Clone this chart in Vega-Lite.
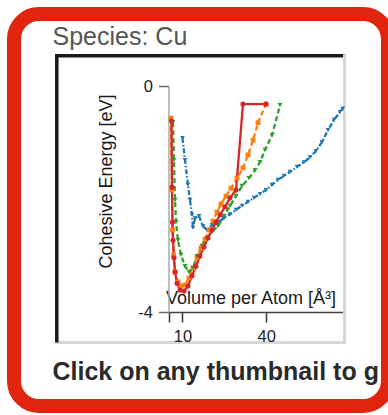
{
  "$schema": "https://vega.github.io/schema/vega-lite/v6.json",
  "width": 374,
  "height": 392,
  "autosize": {"type": "none"},
  "padding": {"left": 14, "top": 14, "right": 0, "bottom": 9},
  "background": "white",
  "view": {"stroke": "#e0240e", "strokeWidth": 14, "cornerRadius": 25, "fill": "white"},
  "title": {
    "text": "Species: Cu",
    "subtitle": "Click on any thumbnail to g",
    "anchor": "start",
    "frame": "group",
    "orient": "top",
    "offset": -371,
    "dx": 38.5,
    "font": "Liberation Sans",
    "fontSize": 25,
    "fontWeight": "normal",
    "color": "#555555",
    "subtitleFont": "Liberation Sans",
    "subtitleFontSize": 25,
    "subtitleFontWeight": "bold",
    "subtitleColor": "#2a2a2a",
    "subtitlePadding": 310
  },
  "data": {"values": [
    {"s":"b","i":0,"v":10.01,"e":-0.92},{"s":"b","i":1,"v":10.91,"e":-1.31},{"s":"b","i":2,"v":11.98,"e":-1.75},{"s":"b","i":3,"v":12.70,"e":-2.02},{"s":"b","i":4,"v":13.42,"e":-2.28},{"s":"b","i":5,"v":13.77,"e":-2.51},{"s":"b","i":6,"v":14.49,"e":-2.34},{"s":"b","i":7,"v":15.92,"e":-2.30},{"s":"b","i":8,"v":17.36,"e":-2.48},{"s":"b","i":9,"v":18.79,"e":-2.55},{"s":"b","i":10,"v":20.58,"e":-2.46},{"s":"b","i":11,"v":22.73,"e":-2.41},{"s":"b","i":12,"v":24.88,"e":-2.34},{"s":"b","i":13,"v":27.03,"e":-2.27},{"s":"b","i":14,"v":29.18,"e":-2.19},{"s":"b","i":15,"v":31.32,"e":-2.12},{"s":"b","i":16,"v":33.47,"e":-2.05},{"s":"b","i":17,"v":35.62,"e":-1.98},{"s":"b","i":18,"v":37.77,"e":-1.91},{"s":"b","i":19,"v":39.92,"e":-1.84},{"s":"b","i":20,"v":42.07,"e":-1.75},{"s":"b","i":21,"v":44.22,"e":-1.66},{"s":"b","i":22,"v":46.37,"e":-1.59},{"s":"b","i":23,"v":48.52,"e":-1.52},{"s":"b","i":24,"v":51.02,"e":-1.43},{"s":"b","i":25,"v":53.53,"e":-1.35},{"s":"b","i":26,"v":55.68,"e":-1.26},{"s":"b","i":27,"v":57.83,"e":-1.15},{"s":"b","i":28,"v":59.98,"e":-0.99},{"s":"b","i":29,"v":62.13,"e":-0.78},{"s":"b","i":30,"v":64.28,"e":-0.60},{"s":"b","i":31,"v":66.43,"e":-0.46},{"s":"b","i":32,"v":67.4,"e":-0.40},
    {"s":"o","i":33,"v":5.90,"e":-0.57},{"s":"o","i":34,"v":6.25,"e":-1.84},{"s":"o","i":35,"v":6.43,"e":-2.55},{"s":"o","i":36,"v":6.79,"e":-2.99},{"s":"o","i":37,"v":7.33,"e":-3.29},{"s":"o","i":38,"v":8.40,"e":-3.47},{"s":"o","i":39,"v":9.48,"e":-3.54},{"s":"o","i":40,"v":10.91,"e":-3.52},{"s":"o","i":41,"v":12.34,"e":-3.40},{"s":"o","i":42,"v":13.77,"e":-3.22},{"s":"o","i":43,"v":15.20,"e":-3.04},{"s":"o","i":44,"v":16.63,"e":-2.87},{"s":"o","i":45,"v":18.07,"e":-2.71},{"s":"o","i":46,"v":19.51,"e":-2.55},{"s":"o","i":47,"v":20.94,"e":-2.39},{"s":"o","i":48,"v":22.37,"e":-2.23},{"s":"o","i":49,"v":23.81,"e":-2.09},{"s":"o","i":50,"v":25.60,"e":-1.95},{"s":"o","i":51,"v":27.39,"e":-1.81},{"s":"o","i":52,"v":29.54,"e":-1.63},{"s":"o","i":53,"v":31.68,"e":-1.45},{"s":"o","i":54,"v":33.48,"e":-1.22},{"s":"o","i":55,"v":35.27,"e":-0.96},{"s":"o","i":56,"v":37.06,"e":-0.65},{"s":"o","i":57,"v":39.92,"e":-0.32},
    {"s":"g","i":58,"v":6.61,"e":-0.64},{"s":"g","i":59,"v":6.97,"e":-1.31},{"s":"g","i":60,"v":7.33,"e":-2.02},{"s":"g","i":61,"v":7.69,"e":-2.41},{"s":"g","i":62,"v":8.40,"e":-2.73},{"s":"g","i":63,"v":9.48,"e":-2.99},{"s":"g","i":64,"v":10.91,"e":-3.19},{"s":"g","i":65,"v":12.34,"e":-3.29},{"s":"g","i":66,"v":13.77,"e":-3.22},{"s":"g","i":67,"v":15.20,"e":-3.01},{"s":"g","i":68,"v":16.99,"e":-2.83},{"s":"g","i":69,"v":18.79,"e":-2.69},{"s":"g","i":70,"v":20.58,"e":-2.58},{"s":"g","i":71,"v":22.73,"e":-2.48},{"s":"g","i":72,"v":24.88,"e":-2.30},{"s":"g","i":73,"v":27.03,"e":-2.12},{"s":"g","i":74,"v":29.18,"e":-1.95},{"s":"g","i":75,"v":31.32,"e":-1.77},{"s":"g","i":76,"v":33.83,"e":-1.63},{"s":"g","i":77,"v":35.98,"e":-1.49},{"s":"g","i":78,"v":37.77,"e":-1.35},{"s":"g","i":79,"v":39.56,"e":-1.13},{"s":"g","i":80,"v":42.07,"e":-0.87},{"s":"g","i":81,"v":44.93,"e":-0.34},
    {"s":"r","i":82,"v":6.07,"e":-0.62},{"s":"r","i":83,"v":6.25,"e":-1.79},{"s":"r","i":84,"v":6.43,"e":-2.41},{"s":"r","i":85,"v":6.61,"e":-2.73},{"s":"r","i":86,"v":6.97,"e":-3.04},{"s":"r","i":87,"v":7.33,"e":-3.29},{"s":"r","i":88,"v":8.04,"e":-3.49},{"s":"r","i":89,"v":9.12,"e":-3.61},{"s":"r","i":90,"v":10.55,"e":-3.63},{"s":"r","i":91,"v":11.98,"e":-3.54},{"s":"r","i":92,"v":13.42,"e":-3.36},{"s":"r","i":93,"v":14.85,"e":-3.19},{"s":"r","i":94,"v":16.28,"e":-3.01},{"s":"r","i":95,"v":17.71,"e":-2.85},{"s":"r","i":96,"v":19.15,"e":-2.69},{"s":"r","i":97,"v":20.58,"e":-2.55},{"s":"r","i":98,"v":22.01,"e":-2.41},{"s":"r","i":99,"v":23.45,"e":-2.28},{"s":"r","i":100,"v":25.24,"e":-2.14},{"s":"r","i":101,"v":27.03,"e":-1.98},{"s":"r","i":102,"v":29.18,"e":-1.84},{"s":"r","i":103,"v":31.68,"e":-0.32},{"s":"r","i":104,"v":39.92,"e":-0.32}
  ]},
  "resolve": {"scale": {"x": "independent", "y": "independent"}, "axis": {"x": "independent", "y": "independent"}},
  "layer": [
    {
      "mark": {"type": "point", "opacity": 0},
      "encoding": {
        "x": {"field": "v", "type": "quantitative", "scale": {"domain": [5, 67.5], "range": [40.8, 331.5], "nice": false, "zero": false},
          "axis": {"orient": "bottom", "offset": -64, "domainColor": "#d8d8d8", "domainWidth": 3, "ticks": false, "labels": false, "title": null, "grid": false}},
        "y": {"field": "e", "type": "quantitative", "scale": {"domain": [-4, 0], "range": [329.5, 39.8], "nice": false, "zero": false},
          "axis": {"orient": "right", "offset": -44, "domainColor": "#d8d8d8", "domainWidth": 3, "ticks": false, "labels": false, "title": null, "grid": false}}
      }
    },
    {
      "mark": {"type": "point", "opacity": 0},
      "encoding": {
        "x": {"field": "v", "type": "quantitative", "scale": {"domain": [5, 67.5], "range": [40.5, 331], "nice": false, "zero": false},
          "axis": {"orient": "top", "offset": -41.3, "domainColor": "#1a1a1a", "domainWidth": 3.5, "ticks": false, "labels": false, "title": null, "grid": false}},
        "y": {"field": "e", "type": "quantitative", "scale": {"domain": [-4, 0], "range": [328, 39.5], "nice": false, "zero": false},
          "axis": {"orient": "left", "offset": -42.3, "domainColor": "#1a1a1a", "domainWidth": 3.5, "ticks": false, "labels": false, "title": null, "grid": false}}
      }
    },
    {
      "encoding": {
        "x": {"field": "v", "type": "quantitative", "scale": {"domain": [5, 67.5], "range": [154.5, 329], "nice": false, "zero": false},
          "axis": {"orient": "bottom", "offset": -94, "values": [5, 10, 40], "labelExpr": "datum.value == 5 ? '' : datum.label",
            "tickSize": 10, "tickColor": "#333333", "tickWidth": 1.5, "domainColor": "#444444", "domainWidth": 1.5,
            "labelFont": "Liberation Sans", "labelFontSize": 16.5, "labelColor": "#222222", "labelPadding": 6, "labelFlush": false, "labelOverlap": false,
            "title": "Volume per Atom [Å³]", "titleFont": "Liberation Sans", "titleFontSize": 18, "titleFontWeight": "normal", "titleColor": "#1a1a1a",
            "titleX": 236.5, "titleY": -9, "titleAlign": "center", "titleBaseline": "alphabetic", "grid": false}},
        "y": {"field": "e", "type": "quantitative", "scale": {"domain": [-4, 0], "range": [298, 72], "nice": false, "zero": false},
          "axis": {"orient": "left", "offset": -154.5, "values": [-4, 0], "labelExpr": "datum.value == 0 ? '0' : '-4'",
            "tickSize": 10, "tickColor": "#666666", "tickWidth": 1.5, "domainColor": "#aaaaaa", "domainWidth": 1.5,
            "labelFont": "Liberation Sans", "labelFontSize": 16.5, "labelColor": "#222222", "labelPadding": 6, "labelFlush": false, "labelOverlap": false,
            "title": "Cohesive Energy [eV]", "titleFont": "Liberation Sans", "titleFontSize": 18, "titleFontWeight": "normal", "titleColor": "#1a1a1a",
            "titleX": -62.5, "titleY": 167, "titleAngle": 270, "titleAlign": "center", "titleBaseline": "middle", "grid": false}},
        "color": {"field": "s", "type": "nominal", "scale": {"domain": ["b", "o", "g", "r"], "range": ["#1f77b4", "#ff7f0e", "#2ca02c", "#d62728"]}, "legend": null},
        "order": {"field": "i", "type": "quantitative"}
      },
      "layer": [
        {
          "mark": {"type": "line", "strokeWidth": 2.3},
          "encoding": {
            "strokeDash": {"field": "s", "type": "nominal", "scale": {"domain": ["b", "o", "g", "r"], "range": [[5, 2, 1.5, 2], [5, 3], [5, 3], [1, 0]]}, "legend": null}
          }
        },
        {
          "mark": {"type": "point", "filled": true, "opacity": 1},
          "encoding": {
            "shape": {"field": "s", "type": "nominal", "scale": {"domain": ["b", "o", "g", "r"], "range": ["triangle-down", "square", "triangle-down", "circle"]}, "legend": null},
            "size": {"field": "s", "type": "ordinal", "scale": {"domain": ["b", "o", "g", "r"], "range": [22, 26, 36, 60]}, "legend": null}
          }
        }
      ]
    }
  ]
}
